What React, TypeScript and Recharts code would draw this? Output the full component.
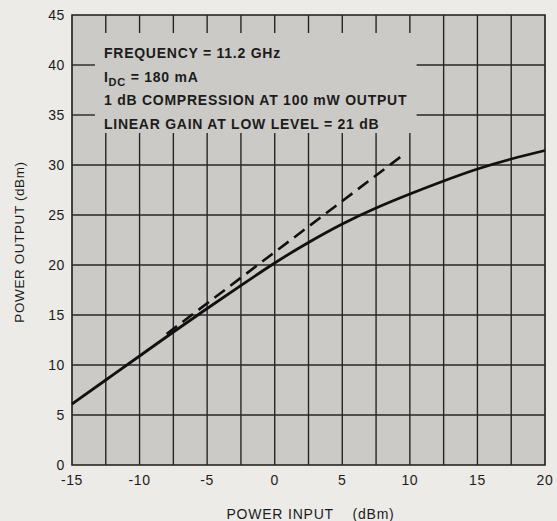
import React from 'react';
import {
  LineChart,
  Line,
  XAxis,
  YAxis,
  CartesianGrid,
  ReferenceArea,
  ReferenceLine,
} from 'recharts';

// power input (dBm)
const pinSolid = [-15, -12.5, -10, -7.5, -5, -2.5, 0, 2.5, 5, 7.5, 10, 12.5, 15, 17.5, 20];
// power output (dBm)
const poutSolid = [6.1, 8.5, 10.9, 13.3, 15.65, 17.95, 20.2, 22.25, 24.1, 25.7, 27.1, 28.4, 29.6, 30.6, 31.45];

// linear gain line (dashed)
const pinLinear = [-8, 9.35];
const poutLinear = [13.1, 30.85];

const xTicks = [-15, -10, -5, 0, 5, 10, 15, 20];
const xGridTicks = [-12.5, -10, -7.5, -5, -2.5, 0, 2.5, 5, 7.5, 10, 12.5, 15, 17.5];
const yTicks = [0, 5, 10, 15, 20, 25, 30, 35, 40, 45];
const yGridTicks = [5, 10, 15, 20, 25, 30, 35, 40];

const notes = [
  'FREQUENCY = 11.2 GHz',
  'IDC = 180 mA',
  '1 dB COMPRESSION AT 100 mW OUTPUT',
  'LINEAR GAIN AT LOW LEVEL = 21 dB',
];

const solidData = pinSolid.map((x, i) => ({ x, y: poutSolid[i] }));
const linearData = pinLinear.map((x, i) => ({ x, y: poutLinear[i] }));

const FONT = '"Liberation Sans", Arial, sans-serif';
const INK = '#1c1c1c';
const PAPER = '#cbcac6';
const GRID = '#262626';

// area kept clear of grid lines for the notes
const box = { x1: -13.3, x2: 10.5, y1: 33.2, y2: 43.2 };

type Pt = { x: number; y: number };
const gridSegments: [Pt, Pt][] = [];
xGridTicks.forEach((x) => {
  if (x > box.x1 && x < box.x2) {
    gridSegments.push([{ x, y: 0 }, { x, y: box.y1 }]);
    gridSegments.push([{ x, y: box.y2 }, { x, y: 45 }]);
  } else {
    gridSegments.push([{ x, y: 0 }, { x, y: 45 }]);
  }
});
yGridTicks.forEach((y) => {
  if (y > box.y1 && y < box.y2) {
    gridSegments.push([{ x: -15, y }, { x: box.x1, y }]);
    gridSegments.push([{ x: box.x2, y }, { x: 20, y }]);
  } else {
    gridSegments.push([{ x: -15, y }, { x: 20, y }]);
  }
});

const tickStyle = { fontFamily: FONT, fontSize: 14, fill: INK, letterSpacing: 0.6 };

// the notes block in the upper left
function NotesLabel(props: any) {
  const { x, y } = props.viewBox;
  const left = x + 9;
  const lineH = 23.5;
  const top = y + 25;
  const textProps = {
    fontFamily: FONT,
    fontSize: 14,
    fill: INK,
    letterSpacing: 0.75,
    fontWeight: 600,
  };
  return (
    <g>
      <text x={left} y={top} {...textProps}>{notes[0]}</text>
      <text x={left} y={top + lineH} {...textProps}>
        I
        <tspan fontSize={11} dy={4}>DC</tspan>
        <tspan dy={-4}>{' = 180 mA'}</tspan>
      </text>
      <text x={left} y={top + lineH * 2} {...textProps}>{notes[2]}</text>
      <text x={left} y={top + lineH * 3} {...textProps}>{notes[3]}</text>
    </g>
  );
}

function YLabel(props: any) {
  const { x, y, height } = props.viewBox;
  const cx = x + 16;
  const cy = y + height / 2 + 2;
  return (
    <text
      x={cx}
      y={cy}
      transform={`rotate(-90, ${cx}, ${cy})`}
      textAnchor="middle"
      fontFamily={FONT}
      fontSize={13.5}
      letterSpacing={0.6}
      fill={INK}
    >
      POWER OUTPUT (dBm)
    </text>
  );
}

function XLabel(props: any) {
  const { x, y, width } = props.viewBox;
  return (
    <text
      x={x + width / 2 + 2}
      y={y + 54}
      textAnchor="middle"
      fontFamily={FONT}
      fontSize={14}
      letterSpacing={0.8}
      fill={INK}
      style={{ whiteSpace: 'pre' }}
    >
      {'POWER INPUT    (dBm)'}
    </text>
  );
}

export default function App() {
  return (
    <div
      style={{
        position: 'absolute',
        left: 0,
        top: 0,
        width: 557,
        height: 521,
        background: '#ecebe8',
      }}
    >
      <LineChart width={557} height={521} margin={{ top: 15, right: 12, bottom: 26, left: 8 }}>
        <XAxis
          type="number"
          dataKey="x"
          domain={[-15, 20]}
          ticks={xTicks}
          interval={0}
          axisLine={false}
          tickLine={false}
          tickSize={0}
          tickMargin={10}
          height={30}
          tick={tickStyle}
          label={<XLabel />}
        />
        <YAxis
          type="number"
          domain={[0, 45]}
          ticks={yTicks}
          interval={0}
          axisLine={false}
          tickLine={false}
          tickSize={0}
          tickMargin={7}
          width={64}
          tick={tickStyle}
          label={<YLabel />}
        />
        <CartesianGrid
          horizontal={false}
          vertical={false}
          fill={PAPER}
          fillOpacity={1}
        />
        {gridSegments.map((seg, i) => (
          <ReferenceLine
            key={`g-${i}`}
            segment={seg}
            stroke={GRID}
            strokeWidth={1.4}
          />
        ))}
        <ReferenceArea
          x1={box.x1}
          x2={box.x2}
          y1={box.y1}
          y2={box.y2}
          fill="none"
          stroke="none"
          label={<NotesLabel />}
        />
        {/* plot frame */}
        <ReferenceArea
          x1={-15}
          x2={20}
          y1={0}
          y2={45}
          fill="none"
          stroke={INK}
          strokeWidth={1.6}
        />
        <Line
          data={linearData}
          dataKey="y"
          type="linear"
          stroke="#111"
          strokeWidth={2.6}
          strokeDasharray="13 7"
          dot={false}
          isAnimationActive={false}
        />
        <Line
          data={solidData}
          dataKey="y"
          type="natural"
          stroke="#111"
          strokeWidth={2.8}
          dot={false}
          isAnimationActive={false}
        />
      </LineChart>
    </div>
  );
}
